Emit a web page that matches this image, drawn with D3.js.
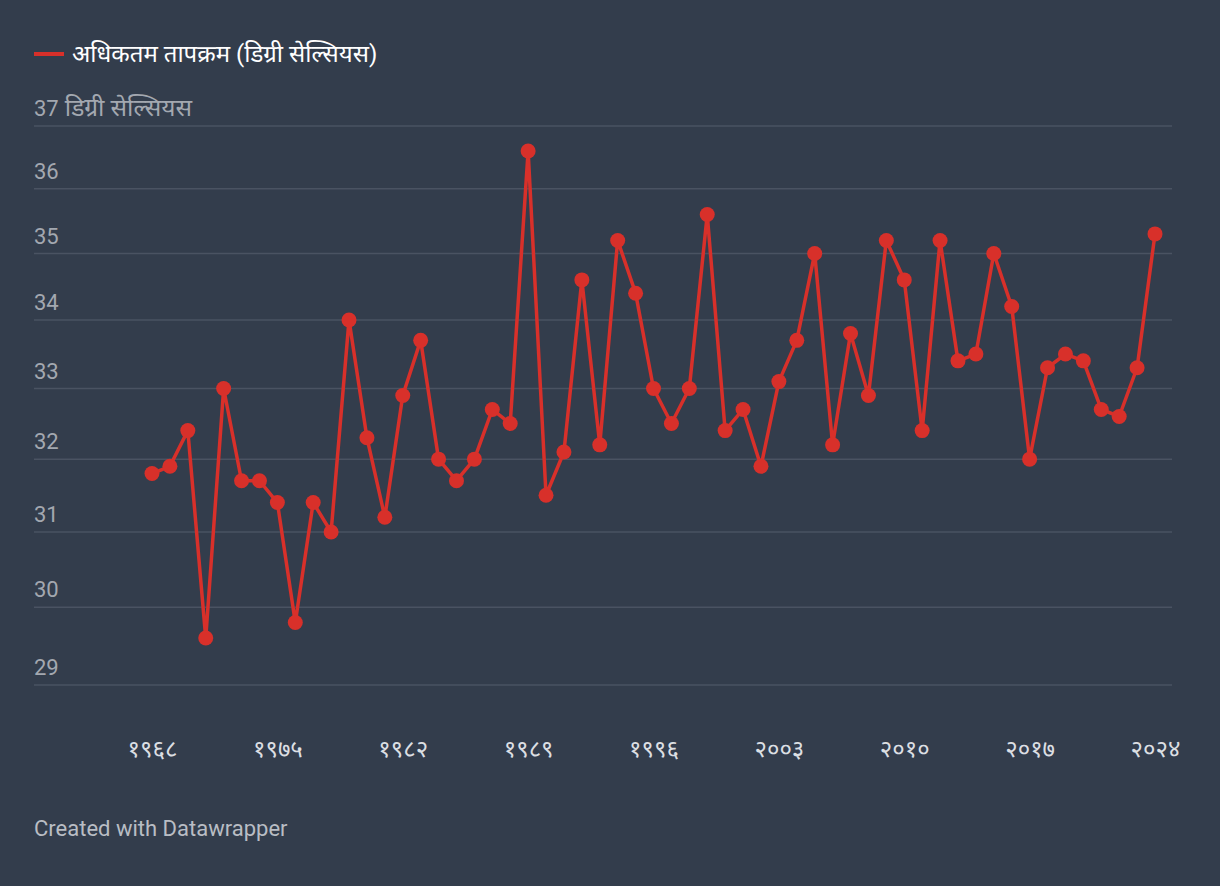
<!DOCTYPE html>
<html><head><meta charset="utf-8">
<script src="https://cdn.jsdelivr.net/npm/d3@7"></script>
<style>
html,body{margin:0;padding:0;background:#333d4c;}
svg{display:block;font-family:Roboto,"Noto Sans","Noto Sans Devanagari",sans-serif;}
</style></head><body>
<svg id="c" width="1220" height="886"></svg>
<script>
const years = d3.range(1968, 2025);
const maxTemp = [31.8,31.9,32.4,29.6,33.0,31.7,31.7,31.4,29.8,31.4,31.0,34.0,32.3,31.2,32.9,33.7,32.0,31.7,32.0,32.7,32.5,36.6,31.5,32.1,34.6,32.2,35.2,34.4,33.0,32.5,33.0,35.6,32.4,32.7,31.9,33.1,33.7,35.0,32.2,33.8,32.9,35.2,34.6,32.4,35.2,33.4,33.5,35.0,34.2,32.0,33.3,33.5,33.4,32.7,32.6,33.3,35.3];
const yTicks = [29,30,31,32,33,34,35,36,37];
const xTickYears = [1968,1975,1982,1989,1996,2003,2010,2017,2024];
const xTickLabels = ["१९६८","१९७५","१९८२","१९८९","१९९६","२००३","२०१०","२०१७","२०२४"];
const seriesName = "अधिकतम तापक्रम (डिग्री सेल्सियस)";
const unitLabel = "डिग्री सेल्सियस";

const svg = d3.select("#c");
const red = "#d8302a";
const x = d3.scaleLinear().domain([1968,2024]).range([152,1155]);
const y = d3.scaleLog().domain([29,37]).range([685,126]);

// gridlines + y labels
const yg = svg.append("g");
yTicks.forEach(t=>{
  yg.append("line").attr("x1",34).attr("x2",1172).attr("y1",y(t)).attr("y2",y(t))
    .attr("stroke","#4a5362").attr("stroke-width",1.5);
  const tx = yg.append("text").attr("x",34).attr("y",y(t)-10).attr("fill","#a3a8b0")
    .attr("font-size",22).text(t);
  if (t===37) tx.append("tspan").attr("font-size",24.5).text(" "+unitLabel);
});

// x labels
const xAxis = d3.axisBottom(x).tickValues(xTickYears).tickSize(0)
  .tickFormat((d,i)=>xTickLabels[i]);
const xg = svg.append("g").attr("transform","translate(0,737)").call(xAxis);
xg.select(".domain").remove();
xg.selectAll("text").attr("fill","#dcdfe3").attr("font-size",24).attr("font-family","Roboto,'Noto Sans',sans-serif");

// line
const data = years.map((yr,i)=>({yr,v:maxTemp[i]}));
svg.append("path").datum(data)
  .attr("d", d3.line().x(d=>x(d.yr)).y(d=>y(d.v)))
  .attr("fill","none").attr("stroke",red).attr("stroke-width",3.5).attr("stroke-linejoin","round");
svg.append("g").selectAll("circle").data(data).join("circle")
  .attr("cx",d=>x(d.yr)).attr("cy",d=>y(d.v)).attr("r",7.5).attr("fill",red);

// legend
svg.append("line").attr("x1",34).attr("x2",64).attr("y1",54).attr("y2",54)
  .attr("stroke",red).attr("stroke-width",4);
svg.append("text").attr("x",72).attr("y",62).attr("fill","#ffffff").attr("font-size",24).text(seriesName);

// footer
svg.append("text").attr("x",34).attr("y",836).attr("fill","#b9bdc4").attr("font-size",22).text("Created with Datawrapper");
</script>
</body></html>
